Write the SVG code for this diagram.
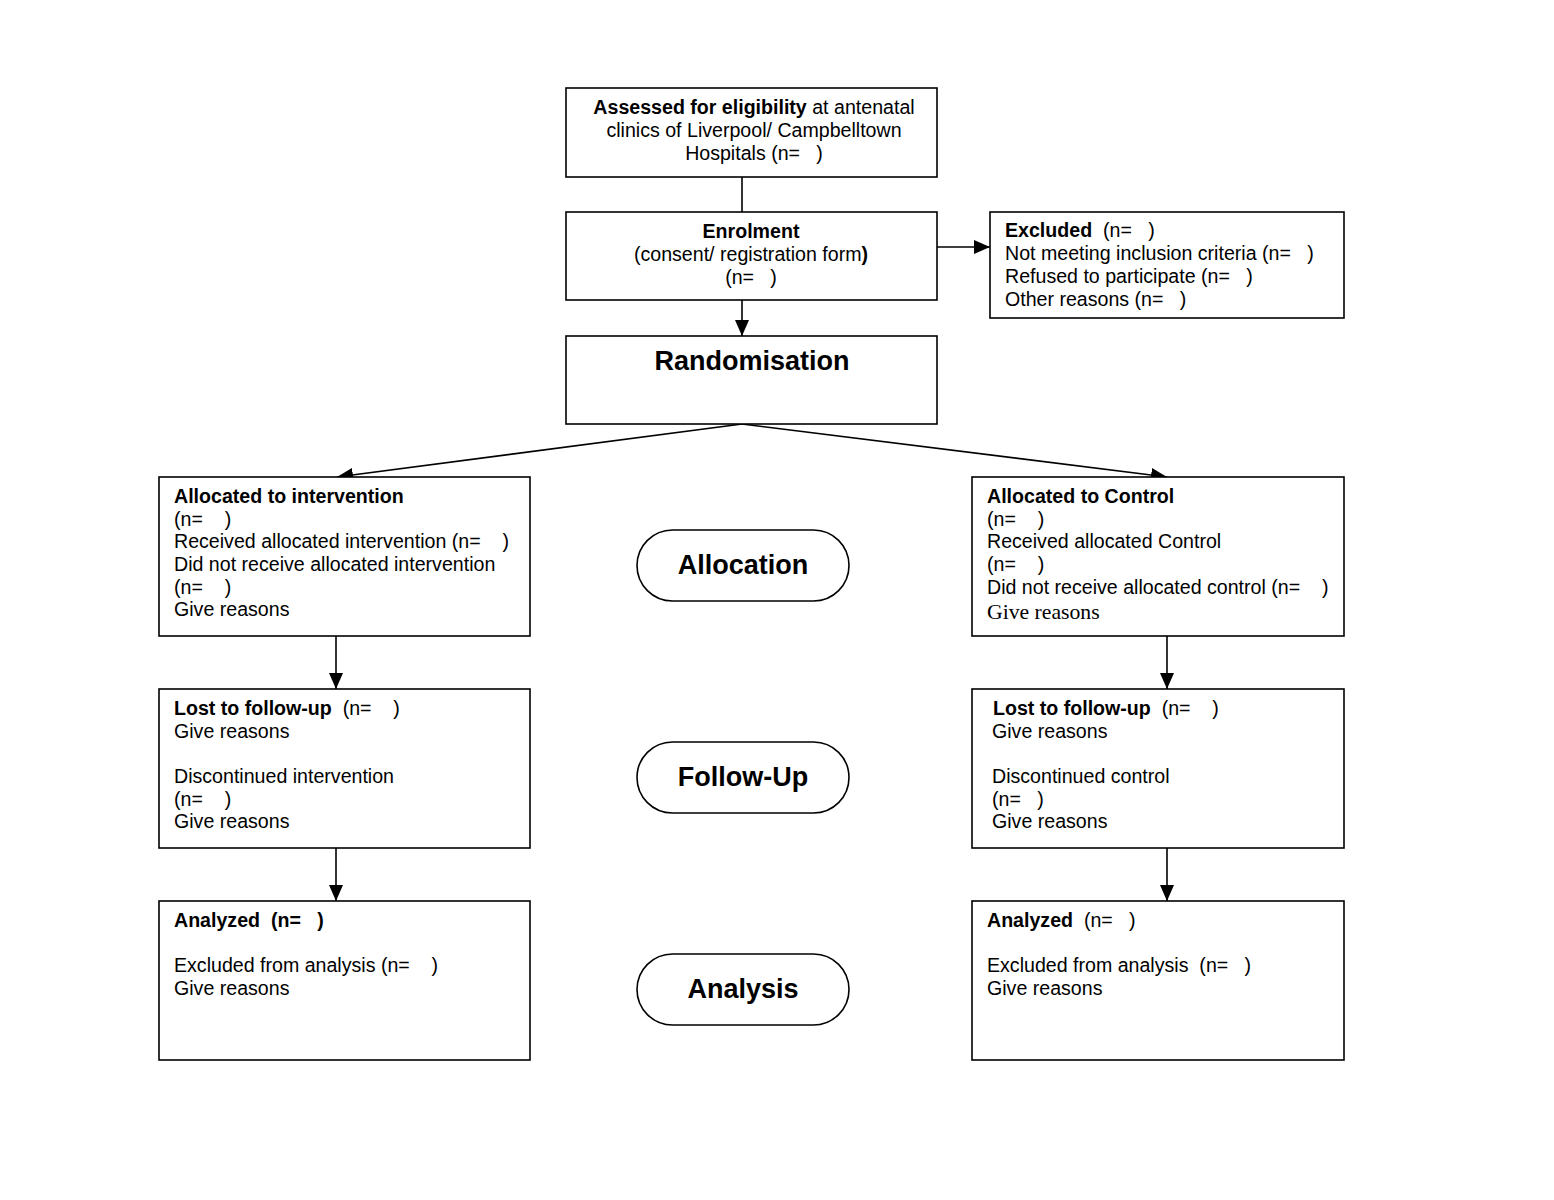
<svg xmlns="http://www.w3.org/2000/svg" width="1554" height="1200" viewBox="0 0 1554 1200">
<style>
text{font-family:"Liberation Sans",Arial,sans-serif;font-size:19.6px;fill:#000;white-space:pre}
.b{font-weight:bold}
.c{text-anchor:middle}
.big{font-size:27px;font-weight:bold}
.tm{font-family:"Liberation Serif","Times New Roman",serif;font-size:21.7px}
rect{fill:#fff;stroke:#000;stroke-width:1.6}
.con line{stroke:#000;stroke-width:1.6}
</style>
<defs>
<marker id="ah" viewBox="0 0 16 14" refX="16" refY="7" markerWidth="16" markerHeight="14" markerUnits="userSpaceOnUse" orient="auto">
<path d="M0,0 L16,7 L0,14 z" fill="#000"/>
</marker>
</defs>
<rect x="0" y="0" width="1554" height="1200" style="stroke:none"/>
<g class="con">
<line x1="742" y1="177" x2="742" y2="212"/>
<line x1="742" y1="300" x2="742" y2="336" marker-end="url(#ah)"/>
<line x1="937" y1="247" x2="990" y2="247" marker-end="url(#ah)"/>
<line x1="742" y1="424" x2="337" y2="477" marker-end="url(#ah)"/>
<line x1="742" y1="424" x2="1167" y2="477" marker-end="url(#ah)"/>
<line x1="336" y1="636" x2="336" y2="689" marker-end="url(#ah)"/>
<line x1="336" y1="848" x2="336" y2="901" marker-end="url(#ah)"/>
<line x1="1167" y1="636" x2="1167" y2="689" marker-end="url(#ah)"/>
<line x1="1167" y1="848" x2="1167" y2="901" marker-end="url(#ah)"/>
</g>
<g id="assessed">
<rect x="566" y="88" width="371" height="89"/>
<text class="c" x="754" y="114"><tspan class="b">Assessed for eligibility</tspan> at antenatal</text>
<text class="c" x="754" y="137">clinics of Liverpool/ Campbelltown</text>
<text class="c" x="754" y="160">Hospitals (n=   )</text>
</g>
<g id="enrolment">
<rect x="566" y="212" width="371" height="88"/>
<text class="c b" x="751" y="238">Enrolment</text>
<text class="c" x="751" y="261">(consent/ registration form<tspan class="b">)</tspan></text>
<text class="c" x="751" y="284">(n=   )</text>
</g>
<g id="excluded">
<rect x="990" y="212" width="354" height="106"/>
<text x="1005" y="237"><tspan class="b">Excluded</tspan>  (n=   )</text>
<text x="1005" y="260">Not meeting inclusion criteria (n=   )</text>
<text x="1005" y="283">Refused to participate (n=   )</text>
<text x="1005" y="306">Other reasons (n=   )</text>
</g>
<g id="randomisation">
<rect x="566" y="336" width="371" height="88"/>
<text class="c big" x="752" y="370">Randomisation</text>
</g>
<g id="alloc-int">
<rect x="159" y="477" width="371" height="159"/>
<text class="b" x="174" y="503">Allocated to intervention</text>
<text x="174" y="526">(n=    )</text>
<text x="174" y="548">Received allocated intervention (n=    )</text>
<text x="174" y="571">Did not receive allocated intervention</text>
<text x="174" y="594">(n=    )</text>
<text x="174" y="616">Give reasons</text>
</g>
<g id="alloc-ctrl">
<rect x="972" y="477" width="372" height="159"/>
<text class="b" x="987" y="503">Allocated to Control</text>
<text x="987" y="526">(n=    )</text>
<text x="987" y="548">Received allocated Control</text>
<text x="987" y="571">(n=    )</text>
<text x="987" y="594">Did not receive allocated control (n=    )</text>
<text class="tm" x="987" y="619">Give reasons</text>
</g>
<g id="allocation">
<rect x="637" y="530" width="212" height="71" rx="35.5" ry="35.5"/>
<text class="c big" x="743" y="574">Allocation</text>
</g>
<g id="lost-int">
<rect x="159" y="689" width="371" height="159"/>
<text x="174" y="715"><tspan class="b">Lost to follow-up</tspan>  (n=    )</text>
<text x="174" y="738">Give reasons</text>
<text x="174" y="783">Discontinued intervention</text>
<text x="174" y="806">(n=    )</text>
<text x="174" y="828">Give reasons</text>
</g>
<g id="lost-ctrl">
<rect x="972" y="689" width="372" height="159"/>
<text x="993" y="715"><tspan class="b">Lost to follow-up</tspan>  (n=    )</text>
<text x="992" y="738">Give reasons</text>
<text x="992" y="783">Discontinued control</text>
<text x="992" y="806">(n=   )</text>
<text x="992" y="828">Give reasons</text>
</g>
<g id="followup">
<rect x="637" y="742" width="212" height="71" rx="35.5" ry="35.5"/>
<text class="c big" x="743" y="786">Follow-Up</text>
</g>
<g id="analyzed-int">
<rect x="159" y="901" width="371" height="159"/>
<text class="b" x="174" y="927">Analyzed  (n=   )</text>
<text x="174" y="972">Excluded from analysis (n=    )</text>
<text x="174" y="995">Give reasons</text>
</g>
<g id="analyzed-ctrl">
<rect x="972" y="901" width="372" height="159"/>
<text x="987" y="927"><tspan class="b">Analyzed</tspan>  (n=   )</text>
<text x="987" y="972">Excluded from analysis  (n=   )</text>
<text x="987" y="995">Give reasons</text>
</g>
<g id="analysis">
<rect x="637" y="954" width="212" height="71" rx="35.5" ry="35.5"/>
<text class="c big" x="743" y="998">Analysis</text>
</g>
</svg>
